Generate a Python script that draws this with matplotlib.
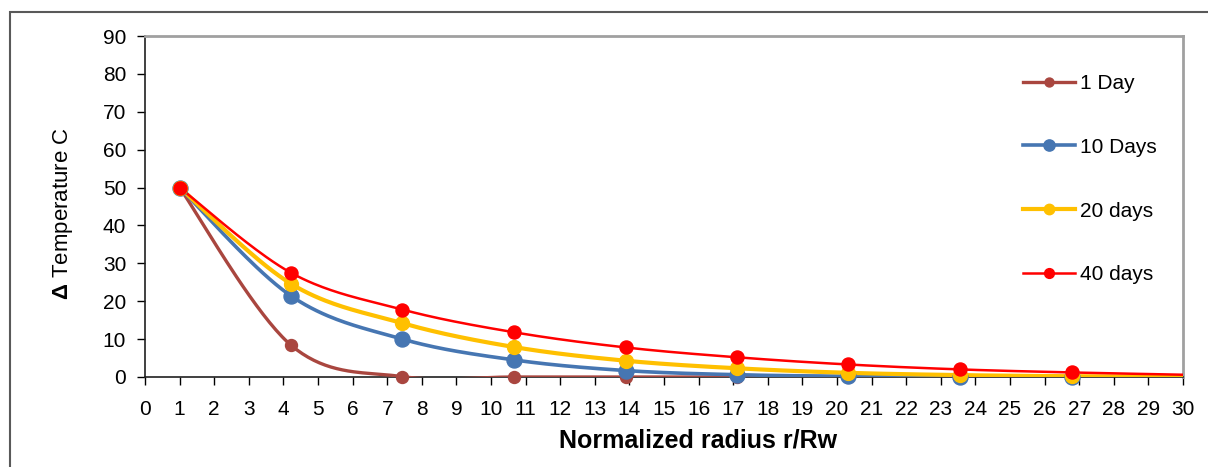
import matplotlib
matplotlib.use("Agg")
import matplotlib.pyplot as plt
from matplotlib.lines import Line2D
from matplotlib.patches import Rectangle
import numpy as np

plt.rcParams['font.family'] = ['Liberation Sans', 'DejaVu Sans']
plt.rcParams['mathtext.fontset'] = 'custom'
plt.rcParams['mathtext.rm'] = 'Liberation Sans'
plt.rcParams['mathtext.bf'] = 'Liberation Sans:bold'

# normalized radius r/Rw and temperature rise for each time step
r_norm = [1.0, 4.22, 7.44, 10.67, 13.89, 17.11, 20.33, 23.56, 26.78, 30.0]
dt_1day = [50.0, 8.4, 0.1, 0.0, 0.0, 0.0, 0.0, 0.0, 0.0, 0.0]
dt_10days = [50.0, 21.4, 10.0, 4.5, 1.7, 0.6, 0.2, 0.05, 0.0, 0.0]
dt_20days = [50.0, 24.6, 14.2, 7.9, 4.3, 2.3, 1.1, 0.5, 0.2, 0.1]
dt_40days = [50.0, 27.5, 17.8, 11.8, 7.8, 5.2, 3.3, 2.0, 1.2, 0.6]
labels = ["1 Day", "10 Days", "20 days", "40 days"]

W, H = 1208, 467


def smooth(x, y, n=40):
    # Catmull-Rom style bezier, like spreadsheet "smoothed line"
    x = np.asarray(x, float)
    y = np.asarray(y, float)
    px = np.concatenate([[x[0]], x, [x[-1]]])
    py = np.concatenate([[y[0]], y, [y[-1]]])
    xs, ys = [], []
    t = np.linspace(0, 1, n)
    for i in range(1, len(px) - 2):
        p0 = np.array([px[i], py[i]])
        p3 = np.array([px[i + 1], py[i + 1]])
        p1 = p0 + (np.array([px[i + 1], py[i + 1]]) - np.array([px[i - 1], py[i - 1]])) / 6
        p2 = p3 - (np.array([px[i + 2], py[i + 2]]) - np.array([px[i], py[i]])) / 6
        b = ((1 - t) ** 3)[:, None] * p0 + (3 * (1 - t) ** 2 * t)[:, None] * p1 \
            + (3 * (1 - t) * t ** 2)[:, None] * p2 + (t ** 3)[:, None] * p3
        xs.extend(b[:, 0])
        ys.extend(b[:, 1])
    return np.array(xs), np.array(ys)


fig = plt.figure(figsize=(W / 100, H / 100), dpi=100)
ax = fig.add_axes([145 / W, 1 - 377 / H, (1183 - 145) / W, (377 - 36) / H])

series = [
    (dt_1day, '#A9463F', 2.4, 8.6),
    (dt_10days, '#4676B2', 2.6, 10.8),
    (dt_20days, '#FFC000', 3.0, 10.0),
    (dt_40days, '#FF0000', 1.8, 9.4),
]
handles = []
for (vals, col, lw, ms), lab in zip(series, labels):
    sx, sy = smooth(r_norm, vals)
    ax.plot(sx, sy, color=col, lw=lw, solid_capstyle='round', zorder=3)
    ax.plot(r_norm[:-1], vals[:-1], 'o', color=col, ms=ms, mec=col, zorder=4, clip_on=False)
    handles.append(Line2D([], [], color=col, lw=lw, marker='o', ms=ms * 0.75, mec=col))

ax.set_xlim(0, 30)
ax.set_ylim(0, 90)
ax.set_xticks(np.arange(0, 31, 1))
ax.set_yticks(np.arange(0, 91, 10))
ax.tick_params(axis='both', direction='out', length=5.5, width=1, labelsize=15, colors='black')
ax.tick_params(axis='x', pad=11)
ax.tick_params(axis='y', pad=8)
for s in ['left', 'bottom']:
    ax.spines[s].set_color('#202020')
    ax.spines[s].set_linewidth(1.2)
for s in ['top', 'right']:
    ax.spines[s].set_color('#a0a0a0')
    ax.spines[s].set_linewidth(2)

fig.text(698 / W, 1 - 440 / H, "Normalized radius r/Rw", fontsize=18, fontweight='bold',
         ha='center', va='center')
fig.text(63 / W, 1 - 214 / H, r"$\mathbf{Δ}$ Temperature C", fontsize=16, rotation=90,
         ha='center', va='center')

leg = ax.legend(handles, labels, loc='upper left', bbox_to_anchor=(1023 / W, 1 - 74 / H),
                bbox_transform=fig.transFigure, frameon=False, fontsize=15,
                handlelength=2.5, handletextpad=0.25, labelspacing=2.15,
                borderpad=0, borderaxespad=0)

# outer chart border
fig.patches.append(Rectangle((10 / W, -0.1), 1.2, 1 - 12 / H + 0.1,
                             transform=fig.transFigure, fill=False,
                             edgecolor='#595959', lw=1.5))

fig.savefig("out.png", dpi=100)
